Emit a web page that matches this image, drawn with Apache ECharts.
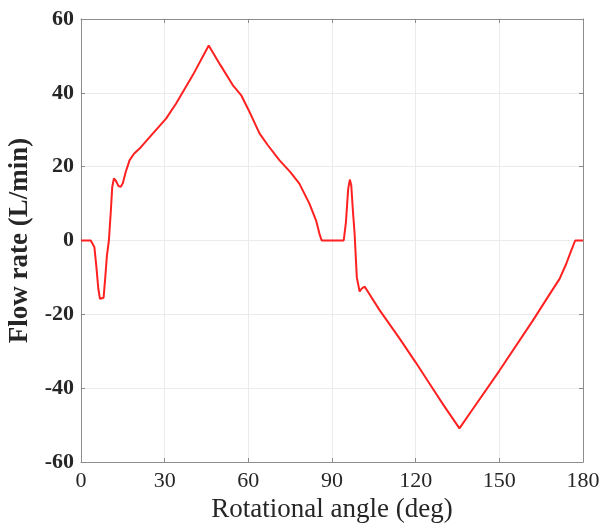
<!DOCTYPE html>
<html>
<head>
<meta charset="utf-8">
<script src="https://cdn.jsdelivr.net/npm/echarts@6/dist/echarts.min.js"></script>
<style>
  html, body { margin: 0; padding: 0; background: #fff; }
  #chart { width: 603px; height: 523px; }
</style>
</head>
<body>
<div id="chart"></div>
<script>
// rotational angle (deg) and flow rate (L/min)
const angles = [0, 3.5, 4.2, 4.8, 5.5, 6.2, 6.8, 7.5, 8.1, 8.7, 9.3, 10, 10.7, 11.2, 11.8, 12.5, 13.4, 14.2, 15, 16, 17.4, 19, 21,
  25.8, 30.5, 34.1, 40.1, 45.8, 46.5, 50, 54.4, 57.4, 60, 64, 67, 71.2, 75, 78.3, 81.9, 84.3, 85.5, 86.3,
  94.2, 95, 95.8, 96.4, 96.9, 97.5, 98.1, 98.9, 99.9, 100.7, 101.7, 103, 107, 114.2, 120, 125, 130, 135.7,
  140, 150, 162, 168, 171.6, 174, 175.8, 177.2, 180]
const flow = [0, 0, -0.3, -1.8, -7, -13, -15.8, -16.0, -15.5, -10, -4, 0, 8, 14.5, 16.8, 16.2, 14.8, 14.5, 15.5, 18.5, 21.7, 23.5, 24.9,
  29.0, 33, 37.1, 44.8, 52.8, 52.5, 47.5, 42.1, 39.4, 35.5, 29.0, 25.8, 21.7, 18.6, 15.4, 10.0, 5.4, 1.8, 0,
  0, 5, 14, 16.5, 15, 8, 1.9, -10, -13.8, -13, -12.5, -14, -18.8, -26.5, -33, -38.8, -44.6, -50.9,
  -46.2, -35.3, -21.7, -14.6, -10.4, -6.3, -2.7, 0, 0]
const xTicks = { min: 0, max: 180, interval: 30 }
const yTicks = { min: -60, max: 60, interval: 20 }

const font = 'Liberation Serif'
const axisLineStyle = { color: '#8c8c8c', width: 1 }
const gridLine = { show: true, lineStyle: { color: '#ebebeb', width: 1 } }
const tick = { show: true, inside: true, length: 4, lineStyle: { color: '#8c8c8c' } }

const chart = echarts.init(document.getElementById('chart'))
chart.setOption({
  animation: false,
  grid: { left: 81, right: 20, top: 19, bottom: 61, outerBoundsMode: 'none' },
  xAxis: [{
    type: 'value',
    min: xTicks.min, max: xTicks.max, interval: xTicks.interval,
    name: 'Rotational angle (deg)',
    nameLocation: 'middle',
    nameGap: 33,
    nameTextStyle: { fontFamily: font, fontSize: 27, color: '#262626' },
    axisLine: { show: true, onZero: false, lineStyle: axisLineStyle },
    axisTick: tick,
    axisLabel: { fontFamily: font, fontSize: 22, color: '#262626', margin: 8 },
    splitLine: gridLine
  }, {
    type: 'value',
    position: 'top',
    min: xTicks.min, max: xTicks.max, interval: xTicks.interval,
    axisLine: { show: true, onZero: false, lineStyle: axisLineStyle },
    axisTick: tick,
    axisLabel: { show: false },
    splitLine: { show: false }
  }],
  yAxis: [{
    type: 'value',
    min: yTicks.min, max: yTicks.max, interval: yTicks.interval,
    name: 'Flow rate (L/min)',
    nameLocation: 'middle',
    nameGap: 43,
    nameTextStyle: { fontFamily: font, fontSize: 27, fontWeight: 'bold', color: '#262626' },
    axisLine: { show: true, onZero: false, lineStyle: axisLineStyle },
    axisTick: tick,
    axisLabel: { fontFamily: font, fontSize: 22, fontWeight: 'bold', color: '#262626', margin: 7 },
    splitLine: gridLine
  }, {
    type: 'value',
    position: 'right',
    min: yTicks.min, max: yTicks.max, interval: yTicks.interval,
    axisLine: { show: true, onZero: false, lineStyle: axisLineStyle },
    axisTick: tick,
    axisLabel: { show: false },
    splitLine: { show: false }
  }],
  series: [{
    type: 'line',
    data: angles.map((a, i) => [a, flow[i]]),
    showSymbol: false,
    smooth: false,
    lineStyle: { color: '#ff2020', width: 2 },
    itemStyle: { color: '#ff2020' }
  }]
})
</script>
</body>
</html>
